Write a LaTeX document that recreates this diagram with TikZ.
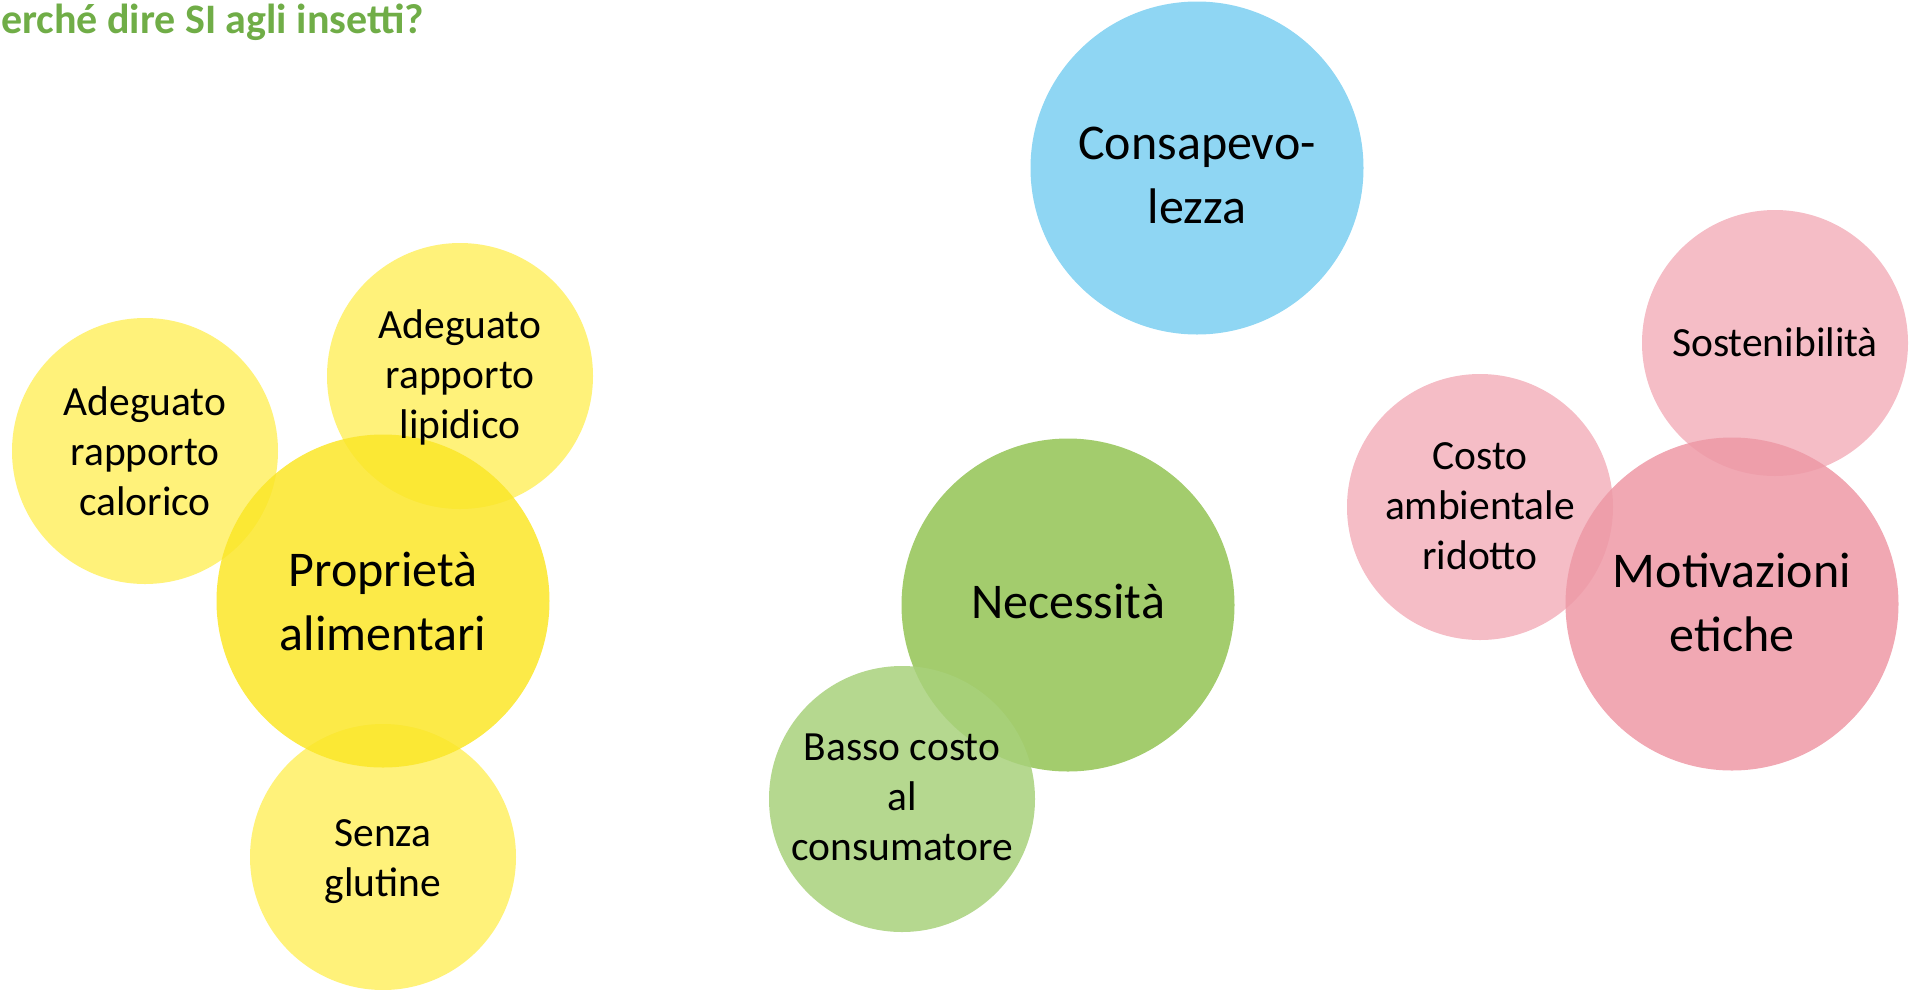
\documentclass[tikz,border=0pt]{standalone}
\usepackage{fontspec}
\setmainfont{Carlito}
\definecolor{titlegreen}{RGB}{112,173,71}
\definecolor{ylsmall}{RGB}{255,240,99}
\definecolor{ylbig}{RGB}{251,230,40}
\definecolor{grbig}{RGB}{147,195,84}
\definecolor{grsmall}{RGB}{168,209,123}
\definecolor{bluec}{RGB}{123,207,241}
\definecolor{pksmall}{RGB}{243,177,188}
\definecolor{pkbig}{RGB}{238,153,166}
\begin{document}
\begin{tikzpicture}[x=1pt,y=-1pt,
  bigc/.style={circle,draw=none,inner sep=0pt,minimum size=333pt,fill opacity=0.85},
  smallc/.style={circle,draw=none,inner sep=0pt,minimum size=266pt,fill opacity=0.85},
  bigt/.style={align=center,inner sep=0pt,font=\fontsize{50}{64}\selectfont,text=black},
  smallt/.style={align=center,inner sep=0pt,font=\fontsize{41.5}{50}\selectfont,text=black}]
\useasboundingbox (0,0) rectangle (1912,989);
\node[anchor=base west,inner sep=0pt,text=titlegreen,font=\fontsize{42}{50}\selectfont\bfseries] (title) at (1,33) {erché dire SI agli insetti?};
% circles
\node[bigc,fill=bluec] (cons) at (1197,168) {};
\node[smallc,fill=ylsmall] (calor) at (145,451) {};
\node[smallc,fill=ylsmall] (lipid) at (460,376) {};
\node[smallc,fill=ylsmall] (glut) at (383,857) {};
\node[bigc,fill=ylbig] (prop) at (383,601) {};
\node[bigc,fill=grbig] (nec) at (1068,605) {};
\node[smallc,fill=grsmall] (basso) at (902,799) {};
\node[smallc,fill=pksmall] (sost) at (1775,343) {};
\node[smallc,fill=pksmall] (amb) at (1480,507) {};
\node[bigc,fill=pkbig] (mot) at (1732,604) {};
% texts
\node[bigt] (cons-t) at ([yshift=-7pt]cons.center) {Consapevo-\\lezza};
\node[smallt] (calor-t) at (calor.center) {Adeguato\\rapporto\\calorico};
\node[smallt] (lipid-t) at ([yshift=-1pt]lipid.center) {Adeguato\\rapporto\\lipidico};
\node[smallt] (glut-t) at ([yshift=-5pt]glut.center) {Senza\\glutine};
\node[bigt] (prop-t) at (prop.center) {Propriet\`a\\alimentari};
\node[bigt] (nec-t) at ([yshift=4pt]nec.center) {Necessit\`a};
\node[smallt] (basso-t) at ([yshift=2pt]basso.center) {Basso costo\\al\\consumatore};
\node[smallt] (sost-t) at ([yshift=1pt]sost.center) {Sostenibilit\`a};
\node[smallt] (amb-t) at ([yshift=1pt]amb.center) {Costo\\ambientale\\ridotto};
\node[bigt] (mot-t) at ([yshift=2pt]mot.center) {Motivazioni\\etiche};
\end{tikzpicture}
\end{document}
